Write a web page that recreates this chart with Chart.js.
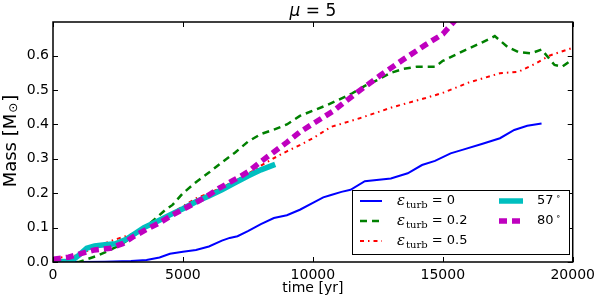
<!DOCTYPE html>
<html>
<head>
<meta charset="utf-8">
<script src="https://cdn.jsdelivr.net/npm/chart.js@4"></script>
<style>body{margin:0;background:#fff}</style>
</head>
<body>
<canvas id="c" width="600" height="300"></canvas>
<script>
// Mass growth, mu = 5

const xTicks = [0, 5000, 10000, 15000, 20000];
const yTicks = [0, 0.1, 0.2, 0.3, 0.4, 0.5, 0.6];

// eps_turb = 0
const t0 = [0, 1000, 2000, 3000, 3600, 4100, 4500, 5000, 5500, 6000, 6500, 6800, 7100, 7500, 8000, 8500, 9000, 9500, 10000, 10400, 10700, 11100, 11450, 12000, 13000, 13650, 14200, 14700, 15300, 15750, 16500, 17200, 17750, 18250, 18800];
const m0 = [0, 0, 0.001, 0.003, 0.006, 0.013, 0.024, 0.03, 0.035, 0.045, 0.062, 0.07, 0.075, 0.09, 0.11, 0.128, 0.136, 0.152, 0.172, 0.188, 0.195, 0.204, 0.21, 0.235, 0.243, 0.258, 0.282, 0.294, 0.316, 0.326, 0.343, 0.36, 0.384, 0.396, 0.403];

// eps_turb = 0.2
const t02 = [0, 1000, 1300, 1700, 2200, 2600, 3000, 3300, 3800, 4300, 4600, 5000, 5500, 6000, 6500, 7000, 7500, 8000, 8500, 9000, 9500, 10000, 10500, 11000, 11500, 12000, 12500, 13000, 13500, 14000, 14700, 15000, 15800, 16500, 17000, 17500, 17900, 18400, 18800, 19300, 19600, 20000];
const m02 = [0, 0, 0.008, 0.018, 0.035, 0.05, 0.07, 0.088, 0.117, 0.15, 0.166, 0.2, 0.232, 0.26, 0.29, 0.318, 0.35, 0.372, 0.385, 0.4, 0.425, 0.44, 0.455, 0.472, 0.49, 0.512, 0.53, 0.55, 0.562, 0.568, 0.568, 0.585, 0.614, 0.638, 0.657, 0.625, 0.611, 0.607, 0.618, 0.573, 0.568, 0.59];

// eps_turb = 0.5
const t05 = [0, 500, 1000, 1500, 2000, 2500, 3000, 3500, 4000, 4500, 5000, 5500, 6000, 6500, 7000, 7500, 8000, 8500, 9000, 9500, 10000, 10700, 11800, 13100, 14300, 15000, 16000, 17200, 17900, 18600, 19100, 20000];
const m05 = [0.01, 0.015, 0.02, 0.04, 0.055, 0.068, 0.08, 0.1, 0.12, 0.14, 0.162, 0.185, 0.2, 0.217, 0.236, 0.256, 0.28, 0.302, 0.322, 0.34, 0.36, 0.393, 0.418, 0.451, 0.476, 0.492, 0.522, 0.549, 0.553, 0.578, 0.6, 0.623];

// 57 deg
const t57 = [0, 700, 1000, 1300, 1600, 2000, 2400, 2800, 3100, 3500, 4000, 4500, 5000, 5500, 6000, 6500, 7000, 7500, 8000, 8550];
const m57 = [0, 0.002, 0.02, 0.04, 0.047, 0.05, 0.053, 0.065, 0.08, 0.1, 0.118, 0.137, 0.155, 0.175, 0.192, 0.21, 0.23, 0.25, 0.268, 0.284];

// 80 deg
const t80 = [0, 600, 1100, 1600, 2200, 2700, 3100, 3600, 4100, 4600, 5100, 5600, 6000, 6400, 7000, 7500, 8000, 8500, 9000, 9500, 10000, 10800, 11700, 12600, 13500, 14300, 15000, 15500];
const m80 = [0.008, 0.014, 0.025, 0.035, 0.04, 0.054, 0.074, 0.095, 0.114, 0.137, 0.157, 0.177, 0.195, 0.215, 0.24, 0.262, 0.292, 0.32, 0.348, 0.378, 0.402, 0.44, 0.493, 0.543, 0.59, 0.63, 0.663, 0.705];

const pts = (t, m) => t.map((x, i) => ({ x, y: m[i] }));
const FONT = "DejaVu Sans";

const datasets = [
  { label: "e0", text: "0", data: pts(t0, m0), borderColor: "#0000ff", borderWidth: 2, order: 4 },
  { label: "e02", text: "0.2", data: pts(t02, m02), borderColor: "#008000", borderWidth: 2.5, borderDash: [7, 5], order: 3 },
  { label: "e05", text: "0.5", data: pts(t05, m05), borderColor: "#ff0000", borderWidth: 2, borderDash: [4, 4, 1.5, 4], order: 2 },
  { label: "a57", text: "57", data: pts(t57, m57), borderColor: "#00bfbf", borderWidth: 5.5, order: 1 },
  { label: "a80", text: "80", data: pts(t80, m80), borderColor: "#bf00bf", borderWidth: 5.5, borderDash: [8, 5], order: 0, clip: 0 },
];

function drawLabel(ctx, ds, x, y) {
  ctx.fillStyle = "#000";
  ctx.textBaseline = "middle";
  ctx.textAlign = "left";
  if (ds.label[0] === "e") {
    ctx.font = "italic 15px 'DejaVu Serif'";
    ctx.fillText("ε", x, y);
    x += ctx.measureText("ε").width + 1;
    ctx.font = "10px 'DejaVu Serif'";
    ctx.fillText("turb", x, y + 4);
    x += ctx.measureText("turb").width;
    ctx.font = "13px " + FONT;
    ctx.fillText(" = " + ds.text, x, y);
  } else {
    ctx.font = "13px " + FONT;
    ctx.fillText(ds.text, x, y);
    x += ctx.measureText(ds.text).width + 2;
    ctx.font = "9px " + FONT;
    ctx.fillText("∘", x, y - 4);
  }
}

const decor = {
  id: "decor",
  afterDraw(chart) {
    const ctx = chart.ctx;
    const a = chart.chartArea;
    const sx = chart.scales.x, sy = chart.scales.y;
    ctx.save();
    // ticks, inward on all sides
    ctx.strokeStyle = "#000";
    ctx.lineWidth = 1;
    ctx.setLineDash([]);
    ctx.beginPath();
    xTicks.forEach(v => {
      const p = Math.round(sx.getPixelForValue(v)) + 0.5;
      ctx.moveTo(p, a.bottom); ctx.lineTo(p, a.bottom - 5);
      ctx.moveTo(p, a.top); ctx.lineTo(p, a.top + 5);
    });
    yTicks.forEach(v => {
      const p = Math.round(sy.getPixelForValue(v)) + 0.5;
      ctx.moveTo(a.left, p); ctx.lineTo(a.left + 5, p);
      ctx.moveTo(a.right, p); ctx.lineTo(a.right - 5, p);
    });
    ctx.stroke();
    // frame
    ctx.lineWidth = 1.5;
    ctx.strokeRect(a.left, a.top, a.right - a.left, a.bottom - a.top);

    // legend
    const lx = 352, ly = 190, lw = 217, lh = 64;
    ctx.fillStyle = "#fff";
    ctx.fillRect(lx, ly, lw, lh);
    ctx.lineWidth = 1;
    ctx.strokeRect(lx + 0.5, ly + 0.5, lw, lh);
    const rows = [201, 221, 241];
    chart.data.datasets.forEach((ds, i) => {
      const col = i < 3 ? 0 : 1;
      const row = i < 3 ? i : i - 3;
      const x0 = col ? 499 : 360, x1 = col ? 523 : 382;
      const tx = col ? 537 : 397;
      const y = rows[row];
      ctx.strokeStyle = ds.borderColor;
      ctx.lineWidth = ds.borderWidth;
      ctx.setLineDash(ds.borderDash || []);
      ctx.beginPath();
      ctx.moveTo(x0, y); ctx.lineTo(x1, y);
      ctx.stroke();
      ctx.setLineDash([]);
      drawLabel(ctx, ds, tx, y);
    });

    // title
    ctx.fillStyle = "#000";
    ctx.textBaseline = "alphabetic";
    ctx.textAlign = "left";
    const mu = "μ", rest = " = 5";
    ctx.font = "17px " + FONT;
    const wRest = ctx.measureText(rest).width;
    ctx.font = "italic 17px " + FONT;
    const wMu = ctx.measureText(mu).width;
    const cx = (a.left + a.right) / 2;
    let x = cx - (wMu + wRest) / 2;
    ctx.fillText(mu, x, 16);
    ctx.font = "17px " + FONT;
    ctx.fillText(rest, x + wMu, 16);

    // y label
    ctx.translate(11, 141);
    ctx.rotate(-Math.PI / 2);
    ctx.textBaseline = "middle";
    ctx.font = "18px " + FONT;
    const s1 = "Mass [M", s3 = "]";
    const w1 = ctx.measureText(s1).width, w3 = ctx.measureText(s3).width;
    ctx.font = "12px " + FONT;
    const w2 = ctx.measureText("⊙").width;
    x = -(w1 + w2 + w3 + 2) / 2;
    ctx.font = "18px " + FONT;
    ctx.fillText(s1, x, 0);
    ctx.font = "12px " + FONT;
    ctx.fillText("⊙", x + w1 + 1, 3);
    ctx.font = "18px " + FONT;
    ctx.fillText(s3, x + w1 + w2 + 2, 0);
    ctx.restore();
  },
};

const config = {
  type: "line",
  data: { datasets },
  options: {
    responsive: false,
    devicePixelRatio: 1,
    animation: false,
    layout: { padding: { left: 0, top: 22, right: 24, bottom: 0 } },
    elements: { point: { radius: 0 }, line: { tension: 0 } },
    plugins: { legend: { display: false }, tooltip: { enabled: false } },
    scales: {
      x: {
        type: "linear",
        min: 0,
        max: 20000,
        grid: { display: false, drawTicks: false },
        border: { display: false },
        afterBuildTicks: s => { s.ticks = xTicks.map(v => ({ value: v })); },
        afterFit: s => { s.height = 38; },
        ticks: { color: "#000", font: { family: FONT, size: 14 }, padding: 5, maxRotation: 0, callback: v => String(v) },
        title: { display: true, text: "time [yr]", color: "#000", font: { family: FONT, size: 14 }, padding: { top: 0, bottom: 3 } },
      },
      y: {
        type: "linear",
        min: 0,
        max: 0.698,
        grid: { display: false, drawTicks: false },
        border: { display: false },
        afterBuildTicks: s => { s.ticks = yTicks.map(v => ({ value: v })); },
        afterFit: s => { s.width = 53; },
        ticks: { color: "#000", font: { family: FONT, size: 14 }, padding: 4, callback: v => v.toFixed(1) },
      },
    },
  },
  plugins: [decor],
};

const myChart = new Chart(document.getElementById("c").getContext("2d"), config);
</script>
</body>
</html>
